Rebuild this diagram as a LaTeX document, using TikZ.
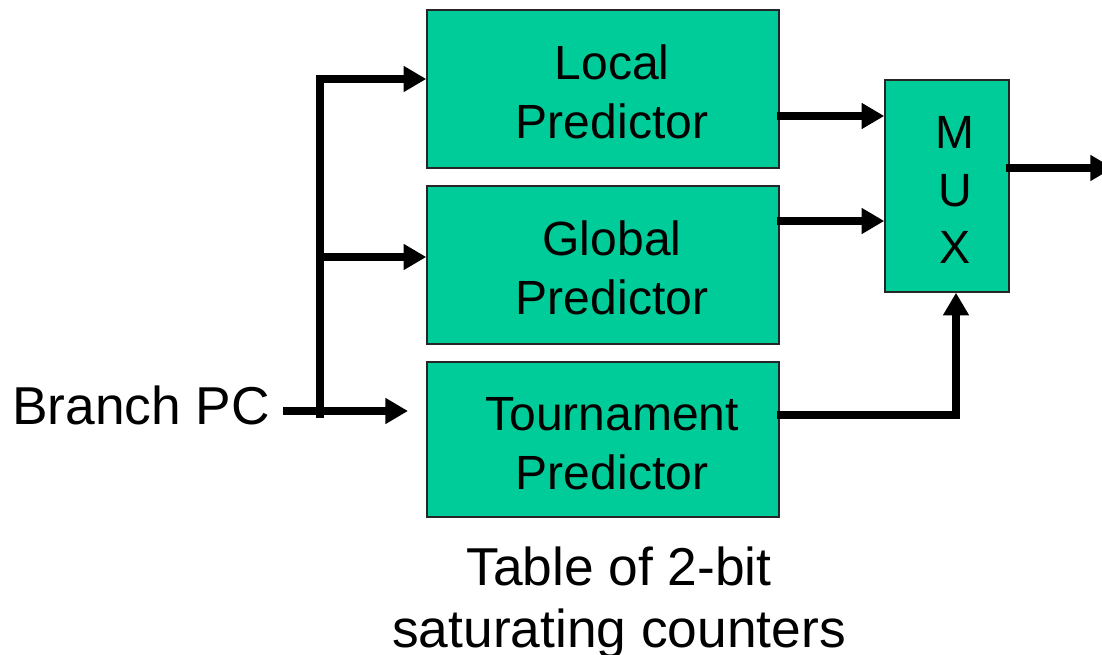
\documentclass[tikz,border=0pt]{standalone}
\usepackage{fontspec}
\setmainfont{Liberation Sans}
\usetikzlibrary{arrows.meta,calc}
\definecolor{boxgreen}{HTML}{00CC99}
\begin{document}
\begin{tikzpicture}[x=0.75pt,y=-0.75pt,
  blk/.style={draw=black!85,line width=1.1pt,fill=boxgreen,inner sep=0pt,
              minimum width=264pt,minimum height=118.5pt},
  lbl/.style={inner sep=0pt,align=center,font=\fontsize{36}{44.25}\selectfont},
  big/.style={inner sep=0pt,align=center,font=\fontsize{40}{46.5}\selectfont},
  conn/.style={line width=5.6pt,line join=miter,-{Triangle[length=17pt,width=18.5pt]}},
  wire/.style={line width=5.6pt}]
\useasboundingbox (0,0) rectangle (1102,655);
% boxes
\node[blk] (local) at (603,89) {};
\node[blk] (global) at (603,265) {};
\node[blk,minimum height=116.25pt] (tour) at (603,439.5) {};
\node[blk,minimum width=93pt,minimum height=159pt] (mux) at (947,186) {};
% texts
\node[lbl] (localtxt) at (612,92) {Local\\Predictor};
\node[lbl] (globaltxt) at (612,268) {Global\\Predictor};
\node[lbl] (tourtxt) at (612,444) {Tournament\\Predictor};
\node[lbl,font=\fontsize{35}{43.1}\selectfont] (muxtxt) at (955,190) {M\\U\\X};
\node[big,anchor=base] (bpc) at (141,425) {Branch PC};
\node[big] (table) at (619,603) {Table of 2-bit\\saturating counters};
% connectors
\coordinate (bstart) at (283,411);
\coordinate (bend) at (408,411);
\coordinate (vbot) at (320,418);
\draw[conn] (bstart) -- (bend);
\draw[conn] (vbot) -- (320,79) -- (local.west |- 0,79);
\draw[conn] (320,257) -- (global.west |- 0,257);
\draw[conn] ([shift={(-3,27)}]local.east) -- (mux.west |- 0,116);
\draw[conn] ([shift={(-3,-44)}]global.east) -- (mux.west |- 0,221);
\draw[conn] ([shift={(-3,-24.5)}]tour.east) -- (956,415) -- (mux.south -| 956,0);
\coordinate (outend) at (1113,168);
\draw[conn] ([shift={(-4,-18)}]mux.east) -- (outend);
\end{tikzpicture}
\end{document}
